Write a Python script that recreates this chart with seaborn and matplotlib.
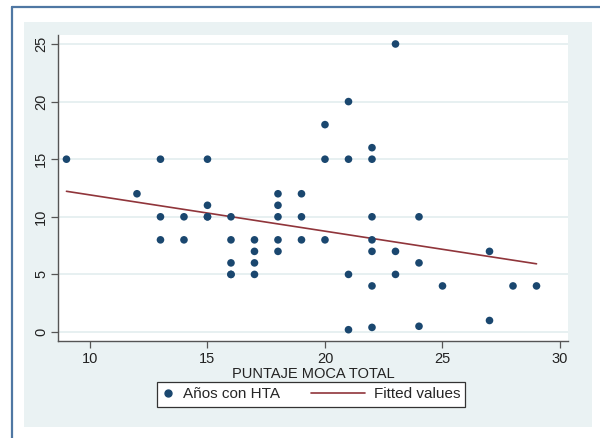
import numpy as np
import pandas as pd
import seaborn as sns
import matplotlib
matplotlib.use("Agg")
import matplotlib.pyplot as plt
from matplotlib.patches import Rectangle
from matplotlib.lines import Line2D
from matplotlib.legend_handler import HandlerBase

# Data
moca = [9, 12, 13, 13, 13, 14, 14, 15, 15, 15, 15,
        16, 16, 16, 16, 16, 17, 17, 17, 17,
        18, 18, 18, 18, 18, 19, 19, 19, 20, 20, 20,
        21, 21, 21, 21, 22, 22, 22, 22, 22, 22, 22,
        23, 23, 23, 24, 24, 24, 25, 27, 27, 28, 29]
anos_hta = [15, 12, 15, 10, 8, 10, 8, 15, 11, 10, 10,
            10, 8, 6, 5, 5, 8, 7, 6, 5,
            12, 11, 10, 8, 7, 12, 10, 8, 18, 15, 8,
            20, 15, 5, 0.2, 16, 15, 10, 8, 7, 4, 0.4,
            25, 7, 5, 10, 6, 0.5, 4, 7, 1, 4, 4]
x_ticks = [10, 15, 20, 25, 30]
y_ticks = [0, 5, 10, 15, 20, 25]
x_label = "PUNTAJE MOCA TOTAL"
series_labels = ["Años con HTA", "Fitted values"]

df = pd.DataFrame({"moca": moca, "hta": anos_hta})

sns.set_theme(style="white")
plt.rcParams["font.family"] = ["Liberation Sans", "DejaVu Sans"]

W, H = 600, 438
fig = plt.figure(figsize=(W / 100, H / 100), dpi=100)
fig.patch.set_facecolor("white")

# light graph region
bg = Rectangle((24 / W, 1 - 427 / H), (592 - 24) / W, (427 - 22) / H,
               transform=fig.transFigure, facecolor="#eaf2f3",
               edgecolor="none", zorder=-10)
fig.add_artist(bg)
# outer frame (top and left visible)
fig.add_artist(Line2D([11.5 / W, 11.5 / W], [1 - 6.5 / H, 0], transform=fig.transFigure,
                      color="#4f77a3", lw=1.6, zorder=-10))
fig.add_artist(Line2D([11.5 / W, 1], [1 - 6.5 / H, 1 - 6.5 / H], transform=fig.transFigure,
                      color="#4f77a3", lw=1.6, zorder=-10))

ax_l, ax_r, ax_t, ax_b = 58, 568, 35, 341
ax = fig.add_axes([ax_l / W, 1 - ax_b / H, (ax_r - ax_l) / W, (ax_b - ax_t) / H])
ax.set_facecolor("white")

navy = "#1a476f"
maroon = "#90353b"

sns.scatterplot(data=df, x="moca", y="hta", ax=ax, color=navy, s=30,
                edgecolor="none", zorder=3, legend=False)
sns.regplot(data=df, x="moca", y="hta", ax=ax, scatter=False, ci=None,
            line_kws={"color": maroon, "lw": 1.2, "zorder": 2})

ax.set_xlim(8.64, 30.34)
ax.set_ylim(-0.78, 25.78)
ax.set_xticks(x_ticks)
ax.set_yticks(y_ticks)
ax.set_yticklabels([str(v) for v in y_ticks], rotation=90, va="center")
ax.grid(axis="y", color="#e3edef", lw=1.2)
ax.set_axisbelow(True)

for s in ["top", "right"]:
    ax.spines[s].set_visible(False)
for s in ["left", "bottom"]:
    ax.spines[s].set_color("#555555")
    ax.spines[s].set_linewidth(1.0)
ax.tick_params(axis="both", which="major", length=5, width=0.9, color="#555555",
               labelsize=10.5, labelcolor="#222222", pad=3, direction="out",
               bottom=True, left=True)
ax.tick_params(axis="y", pad=2)
ax.set_xlabel(x_label, fontsize=10.5, color="#222222", labelpad=1)
ax.set_ylabel("")


class LongLineHandler(HandlerBase):
    def create_artists(self, legend, orig_handle, xdescent, ydescent,
                       width, height, fontsize, trans):
        y = height / 2 - ydescent
        x1 = width - xdescent
        x0 = x1 - 39
        ln = Line2D([x0, x1], [y, y], color=orig_handle.get_color(),
                    lw=orig_handle.get_linewidth())
        ln.set_transform(trans)
        return [ln]


h_dot = Line2D([], [], marker="o", ls="none", color=navy, markersize=5)
h_line = Line2D([], [], color=maroon, lw=1.2)
leg = fig.legend([h_dot, h_line], series_labels, loc="center",
                 bbox_to_anchor=(311 / W, 1 - 394.5 / H), ncol=2, frameon=True,
                 fontsize=11, handlelength=0.8, columnspacing=4.8,
                 handletextpad=0.55, borderpad=0.35, fancybox=False,
                 framealpha=1, handler_map={h_line: LongLineHandler()})
leg.get_frame().set_edgecolor("#333333")
leg.get_frame().set_linewidth(0.9)
leg.get_frame().set_facecolor("white")

fig.savefig("out.png", dpi=100, facecolor="white")
